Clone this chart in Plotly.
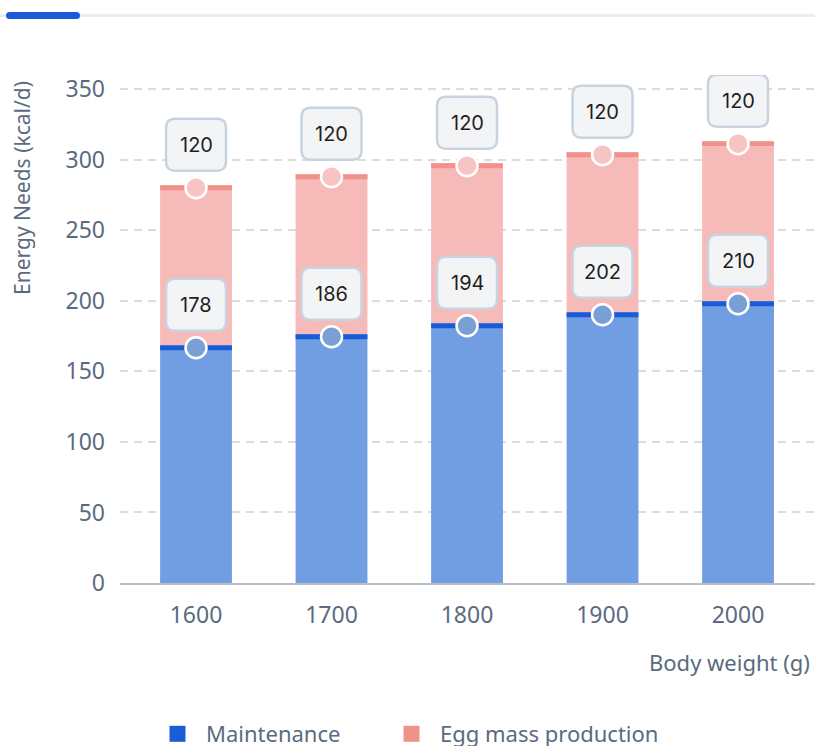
import plotly.graph_objects as go

# ---- data ----
body_weight = ["1600", "1700", "1800", "1900", "2000"]
maintenance = [168.5, 176.3, 184.1, 191.9, 199.7]        # drawn bar heights
egg_mass = [113.4, 113.4, 113.4, 113.4, 113.4]             # drawn segment heights
maintenance_labels = ["178", "186", "194", "202", "210"]
egg_mass_labels = ["120", "120", "120", "120", "120"]
series_names = ["Maintenance", "Egg mass production"]

# ---- styles ----
BLUE = "#1a5cd8"
BLUE_LIGHT = "#719de3"
BLUE_DOT = "#7a9fd4"
PINK = "#f2918b"
PINK_LIGHT = "#f6bab8"
PINK_DOT = "#f7c3c3"
GRAY = "#5a6b7f"
FONT = "Noto Sans"
BAND = 3.5          # height of the darker cap on each bar (data units)
BAR_W = 0.53

x = list(range(len(body_weight)))
totals = [m + e for m, e in zip(maintenance, egg_mass)]

fig = go.Figure()

# main bars
fig.add_trace(go.Bar(x=x, y=maintenance, base=[0] * len(x), width=BAR_W,
                     marker=dict(color=BLUE_LIGHT, line=dict(width=0)),
                     showlegend=False, hoverinfo="skip"))
fig.add_trace(go.Bar(x=x, y=egg_mass, base=maintenance, width=BAR_W,
                     marker=dict(color=PINK_LIGHT, line=dict(width=0)),
                     showlegend=False, hoverinfo="skip"))
# darker caps
fig.add_trace(go.Bar(x=x, y=[BAND] * len(x), base=[m - BAND for m in maintenance], width=BAR_W,
                     marker=dict(color=BLUE, line=dict(width=0)),
                     showlegend=False, hoverinfo="skip"))
fig.add_trace(go.Bar(x=x, y=[BAND] * len(x), base=[t - BAND for t in totals], width=BAR_W,
                     marker=dict(color=PINK, line=dict(width=0)),
                     showlegend=False, hoverinfo="skip"))

# dots
m_dot = [m - BAND / 2 for m in maintenance]
t_dot = [t - BAND / 2 for t in totals]
fig.add_trace(go.Scatter(x=x, y=m_dot, mode="markers",
                         marker=dict(size=21, color=BLUE_DOT, line=dict(color="white", width=2.5)),
                         showlegend=False, hoverinfo="skip"))
fig.add_trace(go.Scatter(x=x, y=t_dot, mode="markers",
                         marker=dict(size=21, color=PINK_DOT, line=dict(color="white", width=2.5)),
                         showlegend=False, hoverinfo="skip"))

# legend-only entries (one legend per entry for exact placement)
fig.add_trace(go.Scatter(x=[None], y=[None], mode="markers", name=series_names[0], legend="legend",
                         marker=dict(symbol="square", size=16, color=BLUE)))
fig.add_trace(go.Scatter(x=[None], y=[None], mode="markers", name=series_names[1], legend="legend2",
                         marker=dict(symbol="square", size=16, color=PINK)))

# label boxes
box_path = ("M -21,17 L 21,17 Q 30,17 30,26 L 30,60 Q 30,69 21,69 "
            "L -21,69 Q -30,69 -30,60 L -30,26 Q -30,17 -21,17 Z")
shapes = []
annotations = []
for i in x:
    for yv, txt in ((m_dot[i], maintenance_labels[i]), (t_dot[i], egg_mass_labels[i])):
        shapes.append(dict(type="path", xref="x", yref="y", xsizemode="pixel", ysizemode="pixel",
                           xanchor=i, yanchor=yv, path=box_path, layer="above",
                           fillcolor="#f3f4f5", line=dict(color="#c9d3df", width=2.5)))
        annotations.append(dict(x=i, y=yv, xref="x", yref="y", text=txt, showarrow=False,
                                yshift=43, font=dict(family="Inter", size=20, color="#1f1f1f")))

# top progress bar decoration
PL, PW, PT, PH = 120, 695, 75, 508
def px(xp):
    return (xp - PL) / PW
def py(yp):
    return (PT + PH - yp) / PH
shapes.append(dict(type="line", xref="paper", yref="paper", x0=px(0), x1=px(815),
                   y0=py(15.5), y1=py(15.5), line=dict(color="#e8eef4", width=3), layer="above"))
shapes.append(dict(type="line", xref="paper", yref="paper", x0=px(9.5), x1=px(76.5),
                   y0=py(15.5), y1=py(15.5), line=dict(color=BLUE, width=7), layer="above"))
for cx in (9.5, 76.5):
    shapes.append(dict(type="circle", xref="paper", yref="paper", x0=px(cx - 3.5), x1=px(cx + 3.5),
                       y0=py(19), y1=py(12), fillcolor=BLUE, line=dict(width=0), layer="above"))

annotations.append(dict(xref="paper", yref="paper", x=px(812), y=py(662), xanchor="right",
                        yanchor="middle", text="Body weight (g)", showarrow=False,
                        font=dict(family=FONT, size=22, color=GRAY)))
annotations.append(dict(xref="paper", yref="paper", x=px(22), y=py(188), xanchor="center",
                        yanchor="middle", text="Energy Needs (kcal/d)", showarrow=False,
                        textangle=-90, font=dict(family=FONT, size=21, color=GRAY)))

legend_style = dict(orientation="h", xanchor="left", yanchor="top", itemwidth=47,
                    font=dict(size=22, color=GRAY), bgcolor="rgba(0,0,0,0)")

fig.update_layout(
    width=815, height=746,
    margin=dict(l=PL, r=0, t=PT, b=746 - PT - PH, autoexpand=False),
    barmode="overlay",
    plot_bgcolor="white", paper_bgcolor="white",
    font=dict(family=FONT, size=20, color=GRAY),
    shapes=shapes, annotations=annotations,
    xaxis=dict(range=[-0.561, 4.568], tickvals=x, ticktext=body_weight, showgrid=False,
               showline=True, linecolor="#b9bec4", linewidth=2, ticks="", zeroline=False,
               tickfont=dict(size=23, color=GRAY), ticklabelstandoff=10),
    yaxis=dict(range=[0, 360], tickvals=[0, 50, 100, 150, 200, 250, 300, 350], showgrid=True,
               gridcolor="#dcdcdc", gridwidth=1.5, griddash="8px,6px", zeroline=False,
               showline=False, ticks="", tickfont=dict(size=23, color=GRAY), ticklabelstandoff=14),
    legend=dict(x=px(149), y=py(713), **legend_style),
    legend2=dict(x=px(383), y=py(713), **legend_style),
    showlegend=True,
)

fig.write_html("out.html", config={"displayModeBar": False},
               post_script="document.body.style.margin='0';document.body.style.overflow='hidden';")
